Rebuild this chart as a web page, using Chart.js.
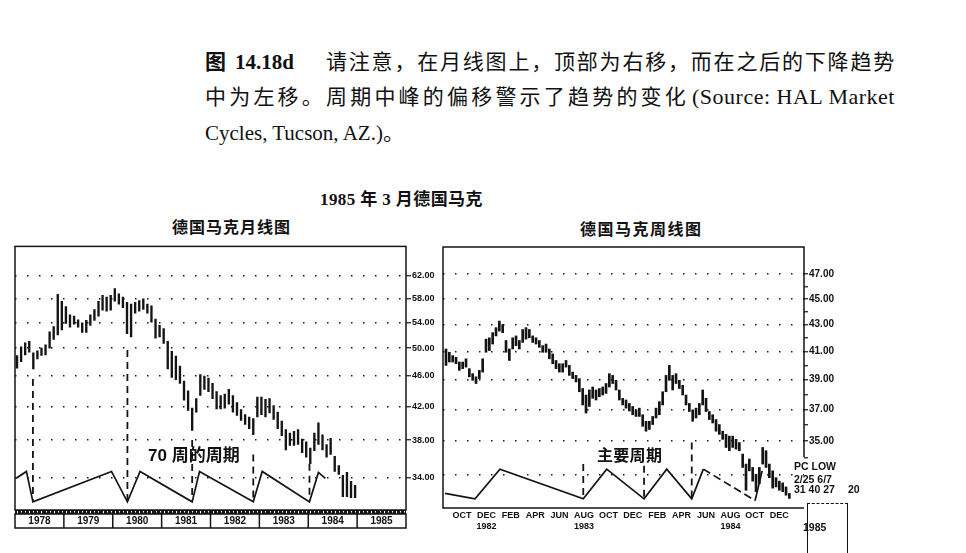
<!DOCTYPE html>
<html lang="zh-CN">
<head>
<meta charset="utf-8">
<title>德国马克月线图与周线图</title>
<script src="https://cdn.jsdelivr.net/npm/chart.js@4.4.1/dist/chart.umd.min.js"></script>
<style>
  html, body { margin: 0; padding: 0; background: #fff; }
  #page { position: relative; width: 966px; height: 553px; overflow: hidden; color: #111; }
  .txt { position: absolute; white-space: nowrap; font-family: 'Liberation Serif', 'Noto Sans CJK SC', serif; }
  .cap { font-size: 21px; line-height: 24px; letter-spacing: 1.8px; }
  .lat { letter-spacing: 0; }
  .hd { font-size: 16px; line-height: 20px; font-weight: bold; }
  .note { font-family: 'Liberation Sans', 'Noto Sans CJK SC', sans-serif; font-weight: bold; }
  .pc { font-family: 'Liberation Sans Narrow', 'Liberation Sans', sans-serif; font-weight: bold; font-size: 10.5px; line-height: 11px; }
  canvas { position: absolute; }
  #box1985 { position: absolute; left: 807px; top: 503px; width: 39px; height: 60px;
             border-left: 1.5px solid #111; border-top: 1.5px dashed #111; border-right: 1.5px solid #111; }
</style>
</head>
<body>
<div id="page">
  <!-- 图注 -->
  <div class="txt cap" style="left:205px; top:50px;"><b>图</b> <b class="lat">14.18d</b></div>
  <div class="txt cap" style="left:326px; top:50px;">请注意，在月线图上，顶部为右移，而在之后的下降趋势</div>
  <div class="txt cap" style="left:205px; top:85px; letter-spacing:3.2px;">中为左移。周期中峰的偏移警示了趋势的变化</div>
  <div class="txt cap lat" style="left:692px; top:85px; font-size:22px; letter-spacing:0.5px;">(Source: HAL Market</div>
  <div class="txt cap lat" style="left:205px; top:121px;">Cycles, Tucson, AZ.)。</div>

  <!-- 标题 -->
  <div class="txt hd" style="left:320px; top:190px; font-size:17px; letter-spacing:0.4px;">1985 年 3 月德国马克</div>
  <div class="txt hd" style="left:172px; top:218px; letter-spacing:1px;">德国马克月线图</div>
  <div class="txt hd" style="left:580px; top:220px; letter-spacing:1.5px;">德国马克周线图</div>

  <canvas id="monthChart" width="440" height="300" style="left:0; top:240px;"></canvas>
  <canvas id="weekChart" width="460" height="300" style="left:440px; top:240px;"></canvas>

  <div class="txt note" style="left:148px; top:445px; font-size:17px; line-height:22px;">70 周的周期</div>
  <div class="txt note" style="left:597px; top:445px; font-size:16px; line-height:22px; letter-spacing:0.3px;">主要周期</div>

  <div class="txt pc" style="left:794px; top:461px;">PC LOW</div>
  <div class="txt pc" style="left:794px; top:474px;">2/25 6/7</div>
  <div class="txt pc" style="left:794px; top:484px;">31 40 27</div>
  <div class="txt pc" style="left:848px; top:484px;">20</div>
  <div id="box1985"></div>
  <div class="txt pc" style="left:803px; top:522px;">1985</div>
</div>

<script>
// ---- 月线图：1978年1月起每月的最高价 / 最低价 ----
const monthHigh = [
  48.9, 50.2, 50.8, 51.0, 49.3, 49.6, 50.0, 50.5, 52.5, 53.3, 58.7, 57.5,
  56.6, 55.2, 55.0, 54.4, 53.9, 54.3, 55.2, 56.1, 57.5, 58.5, 58.2, 58.5,
  59.7, 58.8, 58.2, 57.3, 57.0, 57.3, 57.6, 57.9, 57.0, 56.7, 54.5, 53.5,
  53.0, 51.0, 49.5, 48.8, 47.4, 45.3, 44.0, 41.8, 43.0, 46.2, 46.0, 45.7,
  45.0, 43.9, 43.4, 43.6, 44.2, 43.4, 42.5, 41.6, 41.0, 40.7, 40.5, 43.2,
  43.2, 42.9, 43.0, 42.1, 41.3, 40.2, 39.2, 38.8, 39.0, 39.2, 38.1, 37.8,
  37.1, 38.8, 40.0, 38.6, 37.5, 38.2, 36.2, 35.2, 34.2, 34.5, 33.6, 33.2
];
const monthLow = [
  47.1, 48.0, 49.0, 49.4, 47.0, 48.4, 48.9, 49.0, 50.0, 51.3, 52.0, 52.8,
  53.8, 53.2, 53.7, 53.2, 52.4, 52.4, 53.5, 54.3, 55.0, 56.0, 55.8, 56.0,
  57.5, 57.0, 56.4, 52.2, 51.7, 55.5, 55.8, 56.1, 55.5, 54.0, 51.5, 51.7,
  50.7, 47.0, 45.8, 45.5, 45.0, 42.8, 41.5, 39.1, 41.3, 43.4, 44.2, 43.9,
  43.0, 41.7, 41.7, 41.8, 42.3, 41.3, 40.9, 40.3, 39.8, 39.3, 38.6, 40.7,
  41.0, 40.7, 41.2, 40.4, 39.3, 38.5, 36.9, 37.4, 37.4, 37.5, 36.6, 36.1,
  35.4, 36.8, 37.5, 36.9, 36.1, 36.4, 34.6, 34.3, 32.1, 32.1, 32.0, 32.0
];
const yearLabels = ['1978', '1979', '1980', '1981', '1982', '1983', '1984', '1985'];
const monthTicks = [34, 38, 42, 46, 50, 54, 58, 62];

// 70周周期折线（横坐标：自1978年1月起的月序号）
const cycleMonthL = [-0.2, 2.3, 3.9, 23.2, 27.1, 30.2, 43.0, 44.8, 58.0, 60.2, 71.8, 74.0, 75.7];
const cycleValueL = [33.9, 34.6, 31.6, 34.6, 31.6, 34.6, 31.6, 34.6, 31.6, 34.6, 31.6, 34.5, 33.9];
// 周期低点的竖虚线
const lowMonthL = [3.9, 27.1, 43.0, 58.0, 71.8];
const lowTopL = [45.6, 49.7, 38.0, 36.4, 35.4];

// ---- 周线图：1982年8月起约每周一根 ----
const weekHigh = [
  41.18, 40.94, 40.7, 40.58, 40.24, 40.24, 40.47, 39.77, 39.42, 39.2,
  39.65, 40.47, 41.9, 42.0, 42.38, 42.76, 43.26, 43.0, 41.8, 41.18,
  42.0, 42.14, 41.8, 42.62, 42.76, 42.62, 42.14, 42.0, 41.8, 41.42,
  41.54, 41.18, 40.82, 40.35, 40.12, 40.12, 40.35, 40.0, 39.53, 39.3,
  39.08, 38.4, 37.96, 38.3, 38.5, 38.3, 38.4, 38.5, 38.74, 39.42,
  39.3, 38.96, 38.3, 37.74, 37.63, 37.4, 37.2, 36.98, 37.09, 36.66,
  36.24, 36.24, 36.55, 37.09, 37.52, 38.18, 39.3, 40.0, 39.3, 39.42,
  38.96, 38.62, 37.96, 37.4, 36.98, 37.09, 37.4, 38.3, 37.74, 36.87,
  36.66, 36.35, 36.03, 35.61, 35.41, 35.3, 35.3, 35.1, 34.9, 34.2,
  33.6, 33.9, 33.4, 33.0, 33.4, 34.6, 34.4, 33.6, 33.2, 32.8,
  32.6, 32.5, 32.27, 31.9
];
const weekLow = [
  40.0, 40.24, 40.24, 40.12, 39.65, 39.77, 39.88, 39.2, 38.96, 38.74,
  39.08, 39.53, 40.94, 41.06, 41.54, 42.14, 42.5, 42.38, 40.94, 40.35,
  41.18, 41.42, 41.18, 41.66, 41.9, 42.0, 41.66, 41.54, 41.3, 40.94,
  40.94, 40.47, 40.12, 39.77, 39.53, 39.53, 39.88, 39.3, 39.08, 38.85,
  38.18, 37.3, 36.77, 37.2, 37.74, 37.63, 37.85, 37.96, 38.07, 38.5,
  38.74, 38.3, 37.63, 37.3, 37.09, 36.9, 36.66, 36.55, 36.55, 35.92,
  35.61, 35.72, 36.03, 36.45, 36.66, 37.3, 38.18, 38.96, 38.3, 38.74,
  38.4, 37.96, 37.3, 36.87, 36.24, 36.45, 36.66, 37.3, 36.87, 36.35,
  36.13, 35.61, 35.41, 35.1, 34.6, 34.4, 34.6, 34.5, 34.4, 33.4,
  32.08, 33.2, 32.6, 32.0, 32.45, 33.6, 33.4, 32.8, 32.2, 32.27,
  32.08, 32.0, 31.8, 31.62
];
const firstBarMonth = -1.31;   // 相对1982年10月
const barStepMonth = 0.2732;
const monthLabels = ['OCT', 'DEC', 'FEB', 'APR', 'JUN', 'AUG', 'OCT', 'DEC', 'FEB', 'APR', 'JUN', 'AUG', 'OCT', 'DEC'];
const yearUnder = { 1: '1982', 5: '1983', 11: '1984' };
const weekTicks = [33, 34, 35, 36, 37, 38, 39, 40, 41, 42, 43, 44, 45, 46, 47];
const weekLabelled = [35, 37, 39, 41, 43, 45, 47];
const weekGrid = [33, 35, 37, 39, 41, 43, 45, 47];
const weekAxisEnd = 34;   // 右侧价格轴只画到这里

// 主要周期折线
const cycleMonthR = [-1.39, 1.07, 3.11, 9.94, 11.86, 14.92, 16.78, 18.83, 19.78, 24.02, 24.6];
const cycleValueR = [31.9, 31.6, 33.3, 31.6, 33.3, 31.6, 33.3, 31.6, 33.3, 31.5, 33.2];
const lowMonthR = [9.94, 14.92, 18.83];
const lowTopR = [33.6, 33.5, 34.9];

Chart.defaults.color = '#111';
Chart.defaults.font.family = "'Liberation Sans', sans-serif";

const INK = '#141414';

// 竖虚线：每两点一段，中间用空点断开
function verticals(months, tops, bottom) {
    const pts = [];
    months.forEach((m, i) => {
        pts.push({ x: m, y: tops[i] }, { x: m, y: bottom }, { x: m, y: null });
    });
    return pts;
}

// 外框
const framePlugin = {
    id: 'frame',
    afterDraw(chart) {
        const { ctx, chartArea: a } = chart;
        ctx.save();
        ctx.strokeStyle = INK;
        ctx.lineWidth = 1.5;
        ctx.strokeRect(a.left, a.top, a.right - a.left, a.bottom - a.top);
        ctx.restore();
    }
};

// 周线图外框：右边的价格轴只到 34 附近
const weekFramePlugin = {
    id: 'weekFrame',
    afterDraw(chart) {
        const { ctx, chartArea: a, scales: { y } } = chart;
        const yEnd = y.getPixelForValue(weekAxisEnd);
        ctx.save();
        ctx.strokeStyle = INK;
        ctx.lineWidth = 1.5;
        ctx.beginPath();
        ctx.moveTo(a.right, yEnd);
        ctx.lineTo(a.right, a.top);
        ctx.lineTo(a.left, a.top);
        ctx.lineTo(a.left, a.bottom);
        ctx.lineTo(a.right, a.bottom);
        ctx.stroke();
        ctx.restore();
    }
};

// 月线图下方的月份刻度带和年份方框
const yearBoxPlugin = {
    id: 'yearBox',
    afterDraw(chart) {
        const { ctx, chartArea: a, scales: { x } } = chart;
        ctx.save();
        ctx.fillStyle = INK;
        ctx.fillRect(a.left, a.bottom, a.right - a.left, 4);
        ctx.strokeStyle = '#fff';
        ctx.lineWidth = 1;
        for (let m = 0; m < yearLabels.length * 12; m++) {
            const px = Math.round(x.getPixelForValue(m)) + 0.5;
            ctx.beginPath();
            ctx.moveTo(px, a.bottom + 1);
            ctx.lineTo(px, a.bottom + (m % 3 === 0 ? 4 : 2.5));
            ctx.stroke();
        }
        ctx.strokeStyle = INK;
        ctx.lineWidth = 1.5;
        const top = a.bottom + 4, h = 14;
        ctx.strokeRect(a.left, top, a.right - a.left, h);
        for (let i = 1; i < yearLabels.length; i++) {
            const px = x.getPixelForValue(i * 12 - 0.5);
            ctx.beginPath();
            ctx.moveTo(px, top);
            ctx.lineTo(px, top + h);
            ctx.stroke();
        }
        ctx.restore();
    }
};

// 月线图
new Chart(document.getElementById('monthChart'), {
    type: 'bar',
    data: {
        datasets: [{
            type: 'bar',
            data: monthHigh.map((h, i) => ({ x: i, y: [monthLow[i], h] })),
            backgroundColor: INK,
            barThickness: 1.7,
            order: 3
        }, {
            type: 'line',
            data: cycleMonthL.map((m, i) => ({ x: m, y: cycleValueL[i] })),
            borderColor: INK,
            borderWidth: 1.7,
            pointRadius: 0,
            tension: 0,
            order: 1
        }, {
            type: 'line',
            data: verticals(lowMonthL, lowTopL, 31.7),
            borderColor: INK,
            borderWidth: 1.8,
            borderDash: [7, 5],
            pointRadius: 0,
            spanGaps: false,
            order: 2
        }]
    },
    options: {
        responsive: false,
        animation: false,
        events: [],
        layout: { padding: { left: 15, top: 3, right: 0, bottom: 0 } },
        plugins: { legend: { display: false }, tooltip: { enabled: false } },
        scales: {
            x: {
                type: 'linear',
                offset: false,
                min: -0.5,
                max: 95.5,
                grid: { display: false, drawTicks: false, offset: false },
                border: { display: false },
                afterBuildTicks: (axis) => { axis.ticks = yearLabels.map((_, i) => ({ value: i * 12 + 5.5 })); },
                afterFit: (axis) => { axis.height = 30; },
                ticks: {
                    autoSkip: false,
                    maxRotation: 0,
                    padding: 5,
                    font: { size: 10, weight: 'bold' },
                    callback: (v, i) => yearLabels[i]
                }
            },
            y: {
                type: 'logarithmic',
                position: 'right',
                min: 30.84,
                max: 67.72,
                afterBuildTicks: (axis) => { axis.ticks = monthTicks.map(v => ({ value: v })); },
                afterFit: (axis) => { axis.width = 34; },
                grid: { color: INK, lineWidth: 1.5, tickLength: 5, tickColor: INK, tickWidth: 1.2 },
                border: { display: false, dash: [1.5, 10.5] },
                ticks: {
                    autoSkip: false,
                    padding: 1,
                    font: { size: 9, weight: 'bold' },
                    callback: (v) => Number(v).toFixed(2)
                }
            }
        }
    },
    plugins: [framePlugin, yearBoxPlugin]
});

// 周线图
new Chart(document.getElementById('weekChart'), {
    type: 'bar',
    data: {
        datasets: [{
            type: 'bar',
            data: weekHigh.map((h, i) => ({ x: firstBarMonth + i * barStepMonth, y: [weekLow[i], h] })),
            backgroundColor: INK,
            barThickness: 2,
            order: 3
        }, {
            type: 'line',
            data: cycleMonthR.map((m, i) => ({ x: m, y: cycleValueR[i] })),
            borderColor: INK,
            borderWidth: 1.7,
            pointRadius: 0,
            tension: 0,
            segment: { borderDash: (c) => (c.p0DataIndex === 8 ? [8, 4] : undefined) },
            order: 1
        }, {
            type: 'line',
            data: verticals(lowMonthR, lowTopR, 31.6),
            borderColor: INK,
            borderWidth: 1.8,
            borderDash: [7, 5],
            pointRadius: 0,
            spanGaps: false,
            order: 2
        }]
    },
    options: {
        responsive: false,
        animation: false,
        events: [],
        layout: { padding: { left: 3, top: 3, right: 0, bottom: 0 } },
        plugins: { legend: { display: false }, tooltip: { enabled: false } },
        scales: {
            x: {
                type: 'linear',
                offset: false,
                min: -1.557,
                max: 28.03,
                grid: { display: false, drawTicks: false, offset: false },
                border: { display: false },
                afterBuildTicks: (axis) => { axis.ticks = monthLabels.map((_, i) => ({ value: i * 2 })); },
                afterFit: (axis) => { axis.height = 32; },
                ticks: {
                    autoSkip: false,
                    maxRotation: 0,
                    padding: 2,
                    font: { size: 9, weight: 'bold', lineHeight: 1.25 },
                    callback: (v, i) => (yearUnder[i] ? [monthLabels[i], yearUnder[i]] : monthLabels[i])
                }
            },
            y: {
                type: 'logarithmic',
                position: 'right',
                min: 31.09,
                max: 49.31,
                afterBuildTicks: (axis) => { axis.ticks = weekTicks.map(v => ({ value: v })); },
                afterFit: (axis) => { axis.width = 96; },
                grid: {
                    color: (c) => (c.tick && weekGrid.includes(c.tick.value) ? INK : 'rgba(0,0,0,0)'),
                    lineWidth: 1.5,
                    tickLength: 4,
                    tickColor: (c) => (c.tick && c.tick.value >= weekAxisEnd ? INK : 'rgba(0,0,0,0)'),
                    tickWidth: 1.2
                },
                border: { display: false, dash: [1.5, 10.5] },
                ticks: {
                    autoSkip: false,
                    padding: 1,
                    font: { size: 10, weight: 'bold' },
                    callback: (v) => (weekLabelled.includes(v) ? Number(v).toFixed(2) : '')
                }
            }
        }
    },
    plugins: [weekFramePlugin]
});
</script>
</body>
</html>
